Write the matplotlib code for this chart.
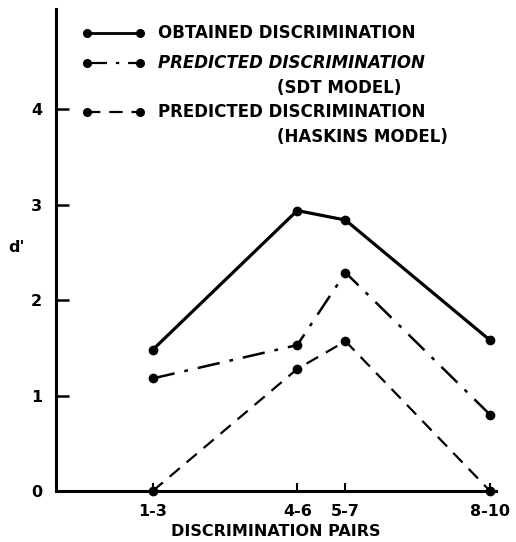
import matplotlib.pyplot as plt

# data
pairs = ['1-3', '4-6', '5-7', '8-10']
pair_pos = [2, 5, 6, 9]
obtained = [1.48, 2.94, 2.84, 1.58]
sdt_model = [1.18, 1.53, 2.29, 0.80]
haskins_model = [0.0, 1.28, 1.57, 0.0]

font = {'family': 'DejaVu Sans', 'weight': 'bold', 'size': 11.5}
legend_font = {'family': 'DejaVu Sans', 'weight': 'bold', 'size': 12}

fig = plt.figure(figsize=(5.16, 5.42), dpi=100)
ax = fig.add_axes([0.109, 0.094, 0.852, 0.889])

ax.plot(pair_pos, obtained, '-', color='black', lw=2.3, marker='o', ms=6, clip_on=False)
ax.plot(pair_pos, sdt_model, color='black', lw=1.8, marker='o', ms=6,
        dashes=(9, 4, 1.5, 4), clip_on=False)
ax.plot(pair_pos, haskins_model, color='black', lw=1.6, marker='o', ms=6,
        dashes=(6, 4), clip_on=False)

ax.set_xlim(0, 9.12)
ax.set_ylim(0, 5.05)
ax.spines['top'].set_visible(False)
ax.spines['right'].set_visible(False)
ax.spines['left'].set_linewidth(2.2)
ax.spines['bottom'].set_linewidth(2.2)

ax.set_yticks([0, 1, 2, 3, 4])
ax.set_yticklabels(['0', '1', '2', '3', '4'], fontdict=font)
ax.set_xticks(pair_pos)
ax.set_xticklabels(pairs, fontdict=font)
ax.tick_params(axis='y', direction='in', length=9, width=1.8, pad=10)
ax.tick_params(axis='x', direction='in', length=6, width=1.5, pad=9)

ax.set_xlabel('DISCRIMINATION PAIRS', fontdict=font, labelpad=4)
ax.text(-0.09, 0.505, "d'", transform=ax.transAxes, ha='center', va='center', **font)

# hand-drawn style legend
legend_rows = [
    (None, 'OBTAINED DISCRIMINATION', 'normal', None),
    ((9, 4, 1.5, 4), 'PREDICTED DISCRIMINATION', 'italic', '(SDT MODEL)'),
    ((6, 4), 'PREDICTED DISCRIMINATION', 'normal', '(HASKINS MODEL)'),
]
row_y = [0.950, 0.888, 0.786]
for (dash, label, style, sub), y in zip(legend_rows, row_y):
    line, = ax.plot([0.070, 0.190], [y, y], '-', color='black', lw=2.0 if dash is None else 1.6,
                    marker='o', ms=5.5, transform=ax.transAxes, clip_on=False)
    if dash is not None:
        line.set_dashes(dash)
    ax.text(0.231, y, label, transform=ax.transAxes, ha='left', va='center',
            style=style, **legend_font)
    if sub:
        ax.text(0.502, y - 0.052, sub, transform=ax.transAxes, ha='left', va='center',
                **legend_font)

fig.savefig('out.png', dpi=100)
